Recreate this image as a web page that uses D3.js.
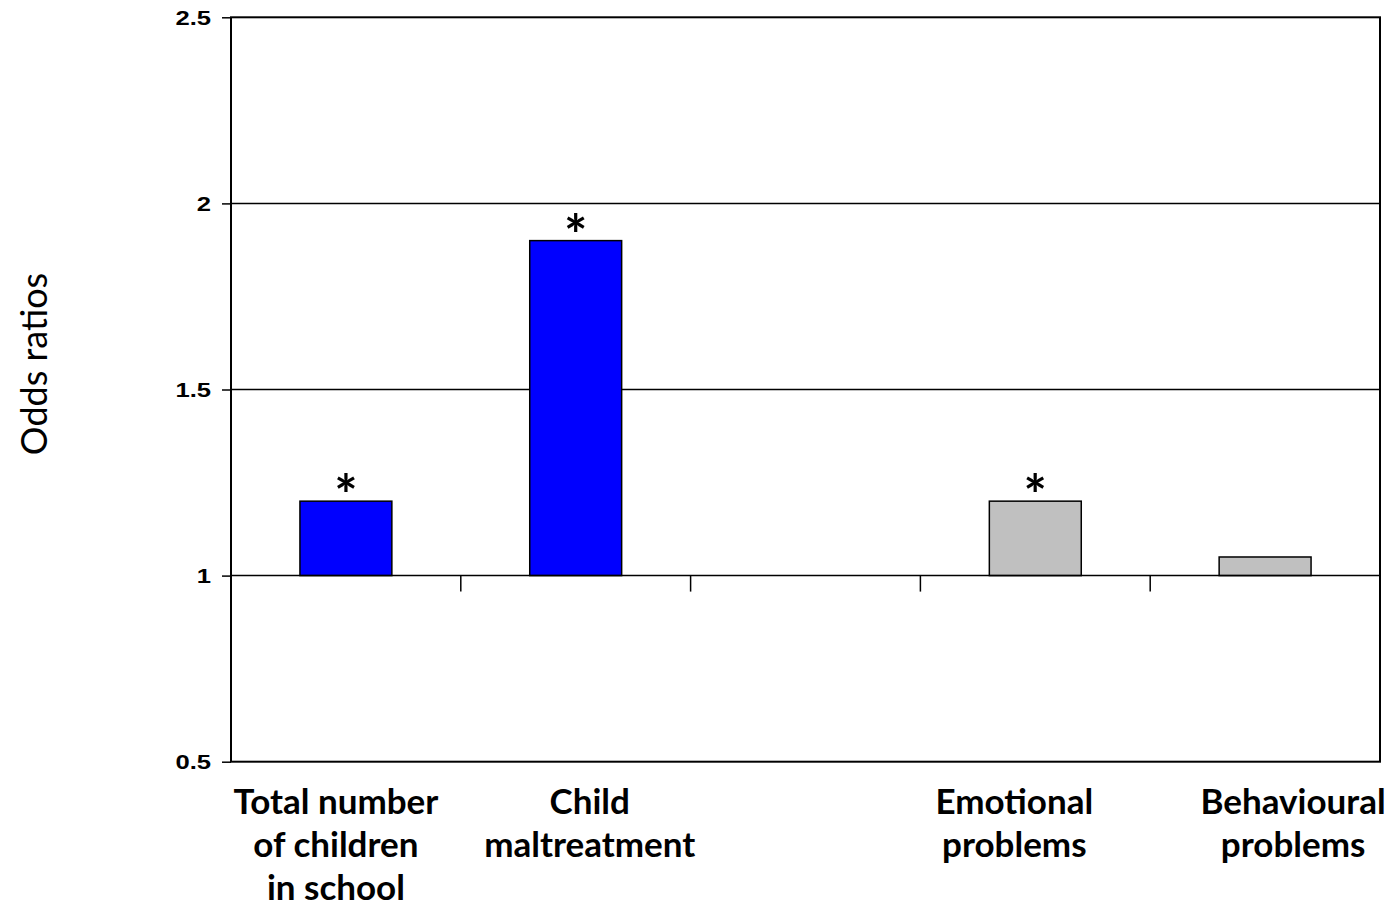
<!DOCTYPE html>
<html>
<head>
<meta charset="utf-8">
<script src="https://cdn.jsdelivr.net/npm/d3@7"></script>
<style>
  html, body { margin: 0; padding: 0; background: #fff; }
  svg { display: block; }
</style>
</head>
<body>
<svg id="chart" width="1389" height="906"></svg>
<script>
// Odds ratios by predictor; the third slot is an intentional gap between the two groups
const categories = [
  ["Total number", "of children", "in school"],
  ["Child", "maltreatment"],
  [],
  ["Emotional", "problems"],
  ["Behavioural", "problems"]
];
const oddsRatios = [1.2, 1.9, null, 1.2, 1.05];
const significant = [true, true, false, true, false];
const barColors = ["#0000ff", "#0000ff", null, "#c0c0c0", "#c0c0c0"];
const yTicks = [0.5, 1, 1.5, 2, 2.5];
const yTickLabels = ["0.5", "1", "1.5", "2", "2.5"];

const svg = d3.select("#chart");
const plot = { left: 231, right: 1380, top: 17.3, bottom: 761.7 };
const baseline = 1;

const slots = d3.range(categories.length);
const x = d3.scaleBand()
  .domain(slots)
  .range([plot.left, plot.right])
  .paddingInner(0.6)
  .paddingOuter(0.3);
const slot = d3.scaleBand().domain(slots).range([plot.left, plot.right]);

const y = d3.scaleLinear().domain([0.5, 2.5]).range([plot.bottom, plot.top]);

// horizontal gridlines
svg.append("g")
  .selectAll("line")
  .data(yTicks.filter(t => t > 0.5 && t < 2.5 && t !== baseline))
  .join("line")
  .attr("x1", plot.left).attr("x2", plot.right)
  .attr("y1", d => y(d)).attr("y2", d => y(d))
  .attr("stroke", "#000").attr("stroke-width", 1.5);

// plot frame
svg.append("rect")
  .attr("x", plot.left).attr("y", plot.top)
  .attr("width", plot.right - plot.left).attr("height", plot.bottom - plot.top)
  .attr("fill", "none").attr("stroke", "#000").attr("stroke-width", 2);

// bars grow from the odds-ratio baseline of 1
const barData = slots.filter(i => oddsRatios[i] != null);
svg.append("g")
  .selectAll("rect")
  .data(barData)
  .join("rect")
  .attr("x", i => x(i))
  .attr("width", x.bandwidth())
  .attr("y", i => y(Math.max(oddsRatios[i], baseline)))
  .attr("height", i => Math.abs(y(oddsRatios[i]) - y(baseline)))
  .attr("fill", i => barColors[i])
  .attr("stroke", "#000").attr("stroke-width", 1.5);

// category axis drawn along the baseline
const xAxis = svg.append("g").attr("transform", `translate(0,${y(baseline)})`);
xAxis.append("line")
  .attr("x1", plot.left).attr("x2", plot.right)
  .attr("stroke", "#000").attr("stroke-width", 1.5);
xAxis.selectAll("line.tick")
  .data(slots.slice(1))
  .join("line")
  .attr("class", "tick")
  .attr("x1", i => slot(i)).attr("x2", i => slot(i))
  .attr("y1", 0).attr("y2", 16)
  .attr("stroke", "#000").attr("stroke-width", 1.5);

// value axis; labels are set in a wide bold face
const tickStretch = 1.22;
const yAxis = d3.axisLeft(y)
  .tickValues(yTicks)
  .tickFormat((d, i) => yTickLabels[i])
  .tickSize(9)
  .tickPadding(20 / tickStretch - 9);
const yg = svg.append("g").attr("transform", `translate(${plot.left},0)`).call(yAxis);
yg.select(".domain").remove();
yg.selectAll(".tick line").attr("stroke", "#000").attr("stroke-width", 1.5);
yg.selectAll(".tick text")
  .attr("transform", `scale(${tickStretch},1)`)
  .attr("font-family", "'Liberation Sans', Arial, sans-serif")
  .attr("font-weight", "bold")
  .attr("font-size", 21)
  .attr("fill", "#000");

// significance markers
svg.append("g")
  .selectAll("text")
  .data(barData.filter(i => significant[i]))
  .join("text")
  .attr("x", i => x(i) + x.bandwidth() / 2)
  .attr("y", i => y(oddsRatios[i]) + 14)
  .attr("text-anchor", "middle")
  .attr("font-family", "Lato, 'Open Sans', sans-serif")
  .attr("font-weight", "bold")
  .attr("font-size", 55)
  .attr("fill", "#000")
  .text("*");

// category labels (nudged the way the wrapped labels sit)
const labelNudge = [-10, 14, 0, -21, 28];
const labels = svg.append("g")
  .attr("font-family", "Lato, 'Open Sans', sans-serif")
  .attr("font-weight", "bold")
  .attr("font-size", 35)
  .attr("fill", "#000")
  .attr("text-anchor", "middle");
slots.forEach(i => {
  const cx = slot(i) + slot.bandwidth() / 2 + labelNudge[i];
  const t = labels.append("text").attr("x", cx).attr("y", 814);
  categories[i].forEach((line, k) => {
    t.append("tspan")
      .attr("x", cx)
      .attr("dy", k === 0 ? 0 : 43)
      .text(line);
  });
});

// value axis title
svg.append("text")
  .attr("transform", "translate(47,364) rotate(-90)")
  .attr("text-anchor", "middle")
  .attr("font-family", "Lato, 'Open Sans', sans-serif")
  .attr("font-size", 36)
  .attr("fill", "#000")
  .text("Odds ratios");
</script>
</body>
</html>
